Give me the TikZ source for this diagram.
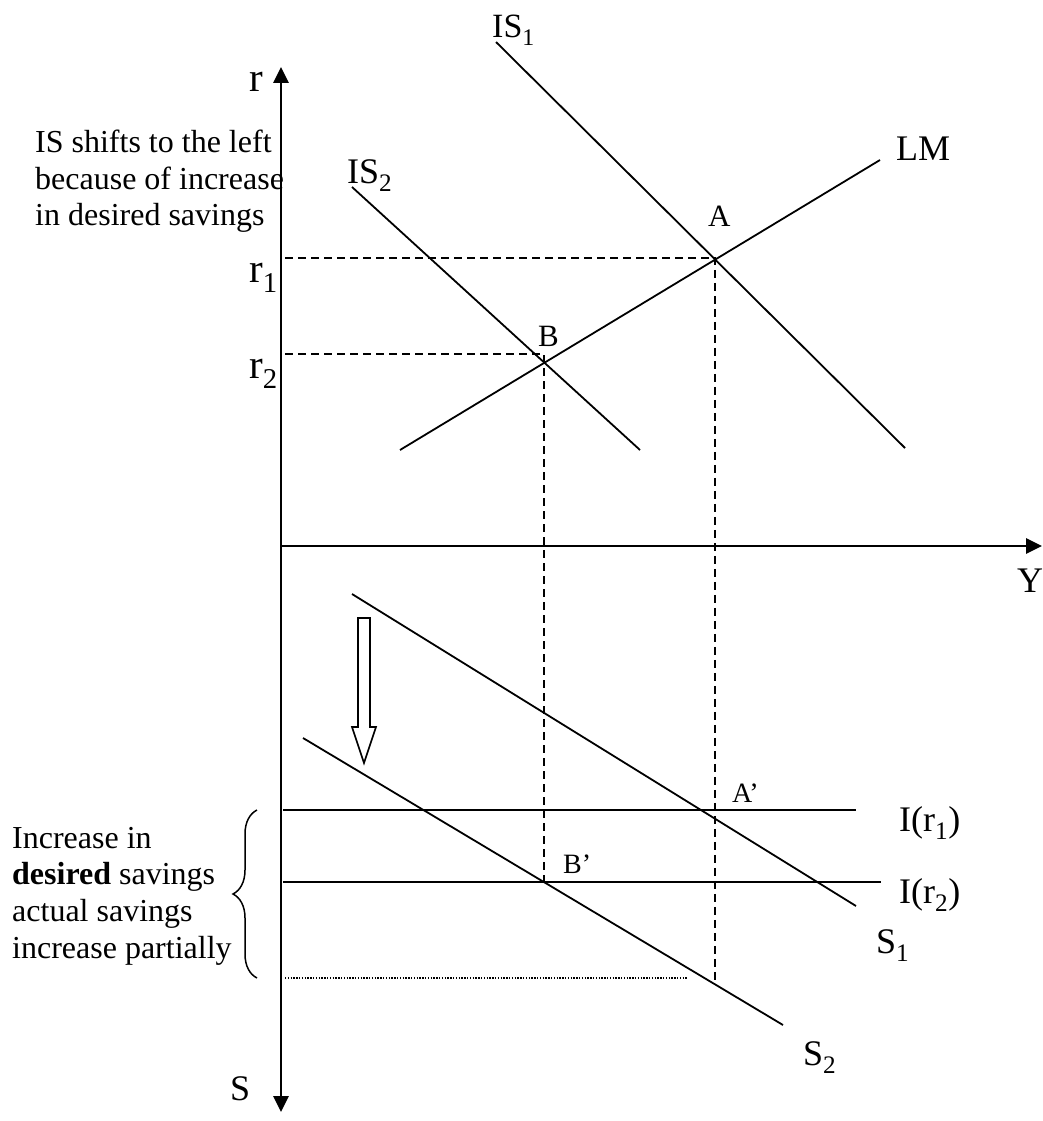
\documentclass[tikz,border=0pt]{standalone}
\usepackage{fontspec}
\setmainfont{Liberation Serif}
\usetikzlibrary{arrows.meta,decorations.pathreplacing}
\begin{document}
\begin{tikzpicture}[x=1pt,y=-1pt,
  curve/.style={line width=1.8pt},
  axis/.style={line width=2.8pt},
  guide/.style={line width=1.6pt, dash pattern=on 8pt off 5pt},
  lbl/.style={font=\fontsize{34}{38}\selectfont, inner sep=0pt, anchor=base west},
  rlbl/.style={font=\fontsize{41}{46}\selectfont, inner sep=0pt, anchor=base west},
  biglbl/.style={font=\fontsize{36}{40}\selectfont, inner sep=0pt, anchor=base west},
  ptlbl/.style={font=\fontsize{31}{35}\selectfont, inner sep=0pt, anchor=base west},
  smlbl/.style={font=\fontsize{28}{32}\selectfont, inner sep=0pt, anchor=base west},
  note/.style={font=\fontsize{32}{36.6}\selectfont, align=left, inner sep=0pt, anchor=north west},
  tip/.style={-{Triangle[width=15pt,length=16pt]}}]
\useasboundingbox (0,0) rectangle (1042,1121);

% axes
\coordinate (O) at (281,546);
\coordinate (Rtop) at (281,67);
\coordinate (Sbot) at (281,1112);
\coordinate (Yend) at (1042,546);
\draw[axis,tip] (O) -- (Rtop);
\draw[axis,tip] (O) -- (Sbot);
\draw[axis,tip] (O) -- (Yend);

% upper curves
\coordinate (IS1a) at (496,42);  \coordinate (IS1b) at (905,448);
\coordinate (IS2a) at (352,187); \coordinate (IS2b) at (640,450);
\coordinate (LMa) at (400,450);  \coordinate (LMb) at (880,160);
\draw[curve] (IS1a) -- (IS1b);
\draw[curve] (IS2a) -- (IS2b);
\draw[curve] (LMa) -- (LMb);
\coordinate (A) at (intersection of IS1a--IS1b and LMa--LMb);
\coordinate (B) at (intersection of IS2a--IS2b and LMa--LMb);

% lower lines
\coordinate (I1a) at (283,810); \coordinate (I1b) at (856,810);
\coordinate (I2a) at (283,882); \coordinate (I2b) at (881,882);
\coordinate (S1a) at (352,594); \coordinate (S1b) at (856,906);
\coordinate (S2a) at (303,738); \coordinate (S2b) at (783,1025);
\draw[line width=2.6pt] (I1a) -- (I1b);
\draw[curve] (I2a) -- (I2b);
\draw[curve] (S1a) -- (S1b);
\draw[curve] (S2a) -- (S2b);
\coordinate (Bp) at (intersection of S2a--S2b and I2a--I2b);

% guides
\coordinate (Gx) at (285,0);
\coordinate (Dl) at (285,978);
\coordinate (Dr) at (688,978);
\coordinate (Abot) at (0,980);
\coordinate (Ac) at (0,258);
\coordinate (Bc) at (0,354);
\draw[guide] (Ac -| Gx) -- (Ac -| A) -- (A |- Abot);
\draw[guide] (Bc -| Gx) -- (Bc -| Bp) -- (Bp);
\draw[line width=1.1pt, dash pattern=on 1.4pt off 1.4pt] (Dl) -- (Dr);

% hollow arrow
\draw[line width=1.6pt, line join=miter] (358,618) coordinate (HA1) -- (370,618) -- (370,727) -- (376,727)
  -- (364,763) coordinate (HAtip) -- (352,727) -- (358,727) -- cycle;

% brace
\coordinate (Br1) at (257,978);
\coordinate (Br2) at (257,810);
\draw[line width=1.5pt, decorate, decoration={brace, amplitude=24pt, aspect=0.5}] (Br1) -- (Br2);

% labels
\node[rlbl] (lr) at (249,92) {r};
\node[rlbl] (lr1) at (249,282) {r\textsubscript{1}};
\node[rlbl] (lr2) at (249,378) {r\textsubscript{2}};
\node[lbl] (lIS1) at (492,38) {IS\textsubscript{1}};
\node[biglbl] (lIS2) at (347,183) {IS\textsubscript{2}};
\node[biglbl] (lLM) at (896,160) {LM};
\node[ptlbl] (lA) at (708,226) {A};
\node[ptlbl] (lB) at (538,346) {B};
\node[biglbl] (lY) at (1017,592) {Y};
\node[smlbl] (lAp) at (732,802) {A’};
\node[smlbl] (lBp) at (563,873) {B’};
\node[biglbl] (lI1) at (899,831) {I(r\textsubscript{1})};
\node[biglbl] (lI2) at (899,903) {I(r\textsubscript{2})};
\node[biglbl] (lS1) at (876,953) {S\textsubscript{1}};
\node[biglbl] (lS2) at (803,1065) {S\textsubscript{2}};
\node[biglbl] (lS) at (230,1100) {S};

\node[note] (n1) at (35,130) {IS shifts to the left\\because of increase\\in desired savings};
\node[note] (n2) at (12,827) {Increase in\\\textbf{desired} savings\\actual savings\\increase partially};
\end{tikzpicture}
\end{document}
